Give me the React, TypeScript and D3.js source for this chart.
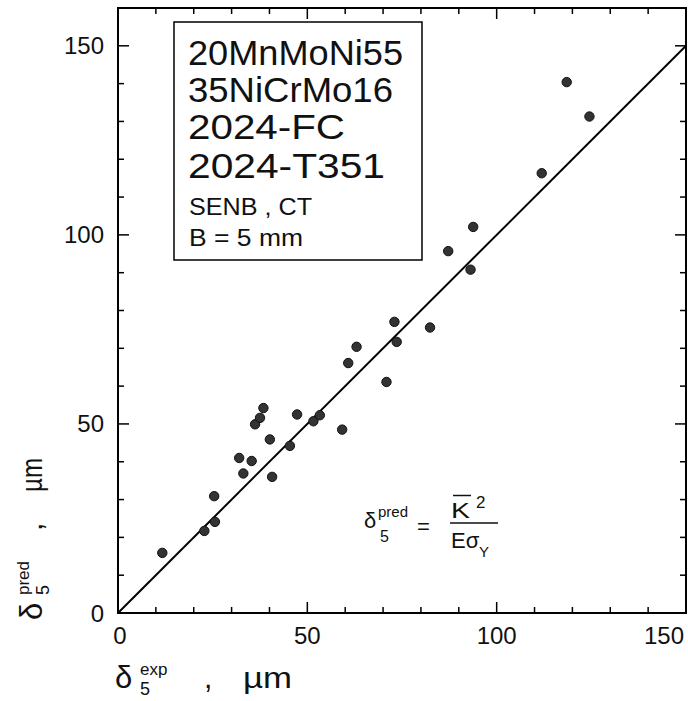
import React from "react";
import * as d3 from "d3";

const deltaExp = [11.7, 22.8, 25.6, 25.4, 32.0, 33.1, 35.3, 36.2, 37.5, 38.4, 40.1, 40.7, 45.4, 47.3, 51.6, 53.3, 59.2, 60.8, 63.0, 70.9, 73.0, 73.6, 82.4, 87.2, 93.1, 93.8, 111.9, 118.5, 124.5];
const deltaPred = [15.9, 21.7, 24.1, 30.9, 41.0, 36.9, 40.2, 49.9, 51.6, 54.2, 45.9, 36.0, 44.2, 52.5, 50.7, 52.3, 48.5, 66.1, 70.4, 61.1, 77.0, 71.7, 75.5, 95.7, 90.8, 102.1, 116.3, 140.4, 131.3];

const xTickLabels = [0, 50, 100, 150];
const yTickLabels = [0, 50, 100, 150];
const minorTicks = d3.range(10, 160, 10);

const boxLinesLarge = ["20MnMoNi55", "35NiCrMo16", "2024-FC", "2024-T351"];
const boxLinesSmall = ["SENB , CT", "B = 5 mm"];

const FONT = "'Liberation Sans', Arial, sans-serif";

export default function App() {
  const W = 688;
  const H = 701;
  const x = d3.scaleLinear().domain([0, 150]).range([118, 686]);
  const y = d3.scaleLinear().domain([0, 160]).range([613, 8]);
  const left = x(0), right = x(150), bottom = y(0), top = y(160);
  const major = 11, minor = 6;

  const largeWidths = [215, 205, 157, 197];
  const largeBaselines = [65, 101.7, 139, 178];
  const smallWidths = [123, 114];
  const smallBaselines = [215, 246];

  const xTickPos = minorTicks.filter((v) => v < 150);
  const yTickPos = minorTicks.filter((v) => v < 160);

  return (
    <svg width={W} height={H} style={{ display: "block", position: "absolute", left: 0, top: 0, background: "#fff" }}>
      <rect x={0} y={0} width={W} height={H} fill="#fff" />
      {/* frame */}
      <rect x={left} y={top} width={right - left} height={bottom - top} fill="none" stroke="#000" strokeWidth={2} />
      {/* ticks */}
      {xTickPos.map((v) => {
        const L = v % 50 === 0 ? major : minor;
        return (
          <g key={"xt" + v}>
            <line x1={x(v)} x2={x(v)} y1={bottom} y2={bottom - L} stroke="#000" strokeWidth={1.5} />
            <line x1={x(v)} x2={x(v)} y1={top} y2={top + L} stroke="#000" strokeWidth={1.5} />
          </g>
        );
      })}
      {yTickPos.map((v) => {
        const L = v % 50 === 0 ? major : minor;
        return (
          <g key={"yt" + v}>
            <line x1={left} x2={left + L} y1={y(v)} y2={y(v)} stroke="#000" strokeWidth={1.5} />
            <line x1={right} x2={right - L} y1={y(v)} y2={y(v)} stroke="#000" strokeWidth={1.5} />
          </g>
        );
      })}
      {/* tick labels */}
      {xTickLabels.map((v, i) => {
        const last = i === xTickLabels.length - 1;
        return (
          <text key={"xl" + v} x={last ? x(v) - 2 : x(v) + (i === 0 ? 2 : 0)} y={644} fontSize={24} fontFamily={FONT}
            textAnchor={last ? "end" : "middle"} fill="#111">{v}</text>
        );
      })}
      {yTickLabels.map((v) => (
        <text key={"yl" + v} x={104} y={y(v) + 8.5} fontSize={24} fontFamily={FONT} textAnchor="end" fill="#111">{v}</text>
      ))}
      {/* diagonal */}
      <line x1={x(0)} y1={y(0)} x2={x(150)} y2={y(150)} stroke="#000" strokeWidth={2} />
      {/* points */}
      {deltaExp.map((v, i) => (
        <circle key={"p" + i} cx={x(v)} cy={y(deltaPred[i])} r={4.7} fill="#333" stroke="#111" strokeWidth={1} />
      ))}
      {/* legend box */}
      <rect x={174} y={22} width={248} height={238} fill="#fff" stroke="#000" strokeWidth={1.5} />
      {boxLinesLarge.map((t, i) => (
        <text key={"bl" + i} x={188} y={largeBaselines[i]} fontSize={35} fontFamily={FONT} fill="#111"
          textLength={largeWidths[i]} lengthAdjust="spacingAndGlyphs">{t}</text>
      ))}
      {boxLinesSmall.map((t, i) => (
        <text key={"bs" + i} x={189} y={smallBaselines[i]} fontSize={24} fontFamily={FONT} fill="#111"
          textLength={smallWidths[i]} lengthAdjust="spacingAndGlyphs">{t}</text>
      ))}
      {/* formula */}
      <g fontFamily={FONT} fill="#111">
        <text x={364} y={528} fontSize={22}>δ</text>
        <text x={378} y={517} fontSize={15}>pred</text>
        <text x={380} y={542} fontSize={16}>5</text>
        <text x={417} y={534} fontSize={22}>=</text>
        <text x={451} y={518} fontSize={22} textLength={19} lengthAdjust="spacingAndGlyphs">K</text>
        <line x1={453} x2={471} y1={495.5} y2={495.5} stroke="#111" strokeWidth={1.5} />
        <text x={476} y={508} fontSize={17}>2</text>
        <line x1={450} x2={498} y1={523} y2={523} stroke="#111" strokeWidth={1.5} />
        <text x={451} y={548} fontSize={22}>Eσ</text>
        <text x={479} y={557} fontSize={15}>Y</text>
      </g>
      {/* x title */}
      <g transform="translate(115,688)" fontFamily={FONT} fill="#111">
        <text x={0} y={0} fontSize={31}>δ</text>
        <text x={25} y={-13} fontSize={17}>exp</text>
        <text x={25} y={7} fontSize={18}>5</text>
        <text x={89} y={0} fontSize={30}>,</text>
        <text x={128} y={0} fontSize={30} textLength={49} lengthAdjust="spacingAndGlyphs">µm</text>
      </g>
      {/* y title */}
      <g transform="translate(42,620) rotate(-90)" fontFamily={FONT} fill="#111">
        <text x={0} y={0} fontSize={31}>δ</text>
        <text x={25} y={-13} fontSize={17}>pred</text>
        <text x={25} y={7} fontSize={18}>5</text>
        <text x={89} y={0} fontSize={30}>,</text>
        <text x={128} y={0} fontSize={30} textLength={34} lengthAdjust="spacingAndGlyphs">µm</text>
      </g>
    </svg>
  );
}
